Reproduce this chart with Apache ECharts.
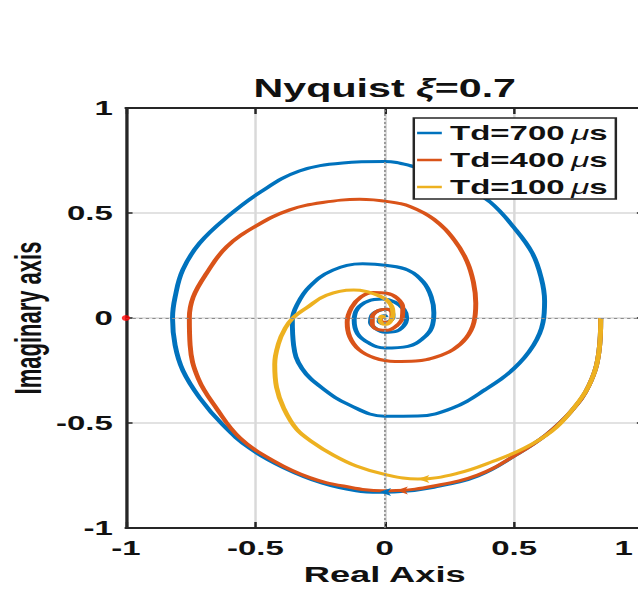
<!DOCTYPE html>
<html><head><meta charset="utf-8">
<script src="https://cdn.jsdelivr.net/npm/echarts@6/dist/echarts.min.js"></script>
<style>
html,body{margin:0;padding:0;background:#fff;overflow:hidden;width:638px;height:590px;}
#chart{width:387px;height:590px;transform:scaleX(1.648579);transform-origin:0 0;}
</style></head><body><div id="chart"></div>
<script>
// ---- data ----
const seriesNames = ['Td=700', 'Td=400', 'Td=100'];
const unitMu = 'μ';
const unitS = 's';
const tickLabels = ['-1', '-0.5', '0', '0.5', '1'];
const axisMin = -1, axisMax = 1, axisStep = 0.5;

const blueRe = [0.835,0.828,0.79,0.72,0.625,0.51,0.36,0.19,0.05,-0.02,-0.11,-0.24,-0.39,-0.52,-0.625,-0.715,-0.78,-0.81,-0.82,-0.81,-0.78,-0.715,-0.61,-0.48,-0.33,-0.162,0.0,0.10,0.21,0.32,0.41,0.50,0.57,0.605,0.618,0.612,0.575,0.50,0.39,0.26,0.128,0.0,-0.135,-0.24,-0.32,-0.352,-0.357,-0.34,-0.29,-0.20,-0.085,0.01,0.09,0.15,0.18,0.19,0.182,0.15,0.09,0.0,-0.06,-0.105,-0.118,-0.105,-0.065,-0.01,0.04,0.075,0.085,0.072,0.04,0.0,-0.035,-0.055,-0.05,-0.025,0.01,0.03,0.032,0.015,-0.01,-0.022,-0.015,0.0,0.006];
const blueIm = [0,-0.16,-0.32,-0.445,-0.555,-0.65,-0.752,-0.806,-0.828,-0.83,-0.823,-0.787,-0.713,-0.622,-0.51,-0.38,-0.25,-0.13,0,0.10,0.23,0.357,0.48,0.60,0.70,0.738,0.745,0.725,0.68,0.62,0.55,0.43,0.31,0.19,0.08,-0.02,-0.13,-0.24,-0.34,-0.43,-0.467,-0.468,-0.415,-0.335,-0.24,-0.13,-0.01,0.06,0.15,0.228,0.258,0.25,0.228,0.17,0.1,0.025,-0.045,-0.095,-0.135,-0.143,-0.12,-0.075,-0.01,0.045,0.08,0.09,0.075,0.04,0.0,-0.04,-0.065,-0.068,-0.05,-0.02,0.012,0.035,0.042,0.03,0.005,-0.018,-0.026,-0.015,0.002,0.012,0.004];

const orangeRe = [0.835,0.828,0.79,0.72,0.625,0.51,0.36,0.19,0.045,-0.01,-0.16,-0.29,-0.43,-0.56,-0.65,-0.72,-0.752,-0.755,-0.74,-0.69,-0.61,-0.495,-0.367,-0.24,-0.097,0.02,0.10,0.19,0.27,0.318,0.343,0.352,0.345,0.315,0.265,0.2,0.12,0.04,-0.04,-0.1,-0.135,-0.145,-0.128,-0.092,-0.045,0.008,0.048,0.07,0.068,0.045,0.01,-0.025,-0.048,-0.048,-0.025,0.008,0.028,0.028,0.01,-0.01,-0.016,-0.005];
const orangeIm = [0,-0.16,-0.32,-0.445,-0.555,-0.65,-0.748,-0.80,-0.822,-0.823,-0.80,-0.76,-0.68,-0.57,-0.43,-0.29,-0.13,0,0.10,0.21,0.34,0.44,0.515,0.55,0.565,0.553,0.53,0.47,0.37,0.27,0.17,0.07,-0.02,-0.095,-0.15,-0.185,-0.205,-0.207,-0.19,-0.15,-0.09,-0.02,0.05,0.1,0.122,0.118,0.095,0.05,0.0,-0.038,-0.058,-0.055,-0.03,0.005,0.035,0.042,0.025,0.0,-0.02,-0.02,-0.002,0.01];

const yellowRe = [0.835,0.828,0.79,0.72,0.645,0.54,0.425,0.28,0.128,0.0,-0.11,-0.20,-0.28,-0.34,-0.39,-0.418,-0.425,-0.41,-0.385,-0.355,-0.30,-0.225,-0.12,-0.03,0.02,0.032,0.02,0.0,-0.018,-0.012,0.004];
const yellowIm = [0,-0.16,-0.32,-0.445,-0.54,-0.62,-0.68,-0.74,-0.767,-0.745,-0.705,-0.652,-0.59,-0.53,-0.43,-0.33,-0.22,-0.12,-0.05,0,0.05,0.108,0.133,0.11,0.07,0.015,-0.02,-0.03,-0.012,0.008,0.006];

const arrowRe = [-0.02, 0.045, 0.128];
const arrowIm = [-0.828, -0.822, -0.767];
const criticalPoint = [-1, 0];

// ---- styling ----
const colors = ['#0072BD', '#D95319', '#EDB120'];
const FONT = "'Liberation Sans', Arial, Helvetica, sans-serif";
const INK = '#111111';
const AX = '#262626';

const zip = (a, b) => a.map((v, i) => [v, b[i]]);
const curves = [zip(blueRe, blueIm), zip(orangeRe, orangeIm), zip(yellowRe, yellowIm)];
const tickFmt = v => {
  const i = Math.round((v - axisMin) / axisStep);
  return i === tickLabels.length - 1 ? '{r|' + tickLabels[i] + '}' : tickLabels[i];
};
const tickFmtY = v => tickLabels[Math.round((v - axisMin) / axisStep)];

const baseAxis = { type: 'value', min: axisMin, max: axisMax, interval: axisStep };

const chart = echarts.init(document.getElementById('chart'), null, { renderer: 'svg' });
const option = {
  animation: false,
  backgroundColor: '#ffffff',
  title: {
    text: '{a|Nyquist }{g|ξ}{a|=0.7}',
    left: 233.4, top: 76, textAlign: 'center', padding: 0,
    textStyle: { rich: {
      a: { fontFamily: FONT, fontWeight: 'bold', fontSize: 25, color: INK },
      g: { fontFamily: FONT, fontStyle: 'italic', fontSize: 25, color: INK }
    } }
  },
  legend: {
    orient: 'vertical', left: 251, top: 118,
    padding: [5, 5, 2, 2], itemWidth: 15, itemHeight: 2.5, itemGap: 7,
    icon: 'rect',
    backgroundColor: '#ffffff', borderColor: AX, borderWidth: 1.5,
    selectedMode: false,
    data: seriesNames,
    formatter: n => '{a|' + n + '}{m|' + unitMu + '}{a|' + unitS + '}',
    textStyle: { rich: {
      a: { fontFamily: FONT, fontWeight: 'bold', fontSize: 20, color: INK, lineHeight: 20 },
      m: { fontFamily: FONT, fontStyle: 'italic', fontSize: 20, color: INK, lineHeight: 20, padding: [0, 0, 0, 4] }
    } }
  },
  grid: { left: 76.4, top: 108, width: 313.9, height: 420, outerBoundsMode: 'none' },
  xAxis: [
    Object.assign({}, baseAxis, {
      position: 'bottom',
      axisLine: { show: true, onZero: false, lineStyle: { color: AX, width: 2 } },
      axisTick: { show: true, inside: true, length: 6, lineStyle: { color: AX, width: 1.5 } },
      axisLabel: {
        formatter: tickFmt, fontFamily: FONT, fontWeight: 'bold', fontSize: 20, color: INK, margin: 10,
        rich: { r: { fontFamily: FONT, fontWeight: 'bold', fontSize: 20, color: INK, padding: [0, 24, 0, 0] } }
      },
      splitLine: { show: true, lineStyle: { color: '#d9d9d9', width: 1.5 } },
      name: 'Real Axis', nameLocation: 'middle', nameGap: 35, nameMoveOverlap: false,
      nameTextStyle: { fontFamily: FONT, fontWeight: 'bold', fontSize: 22, color: INK }
    }),
    Object.assign({}, baseAxis, {
      position: 'top',
      axisLine: { show: true, onZero: false, lineStyle: { color: AX, width: 2 } },
      axisTick: { show: true, inside: true, length: 6, lineStyle: { color: AX, width: 1.5 } },
      axisLabel: { show: false },
      splitLine: { show: false }
    })
  ],
  yAxis: [
    Object.assign({}, baseAxis, {
      position: 'left',
      axisLine: { show: true, onZero: false, lineStyle: { color: AX, width: 2 } },
      axisTick: { show: true, inside: true, length: 4, lineStyle: { color: AX, width: 1.5 } },
      axisLabel: { formatter: tickFmtY, fontFamily: FONT, fontWeight: 'bold', fontSize: 20, color: INK, margin: 8 },
      splitLine: { show: true, lineStyle: { color: '#d9d9d9', width: 1.5 } },
      name: 'Imaginary axis', nameLocation: 'middle', nameGap: 48, nameRotate: 90, nameMoveOverlap: false,
      nameTextStyle: { fontFamily: FONT, fontWeight: 'bold', fontSize: 22, color: INK }
    }),
    Object.assign({}, baseAxis, {
      position: 'right',
      axisLine: { show: true, onZero: false, lineStyle: { color: AX, width: 2 } },
      axisTick: { show: true, inside: true, length: 4, lineStyle: { color: AX, width: 1.5 } },
      axisLabel: { show: false },
      splitLine: { show: false }
    })
  ],
  series: [
    {
      type: 'line', name: '__zero', data: [], z: 1, silent: true,
      markLine: {
        silent: true, symbol: ['none', 'none'], label: { show: false },
        lineStyle: { color: '#8c8c8c', type: [2, 2], width: 1 },
        data: [{ xAxis: 0 }, { yAxis: 0 }]
      }
    }
  ].concat(seriesNames.map((n, i) => ({
    type: 'line', name: n, data: curves[i], z: 2 + i,
    showSymbol: false, symbol: 'none', smooth: 0.4,
    lineStyle: { color: colors[i], width: 3 }, itemStyle: { color: colors[i] },
    markPoint: {
      silent: true, symbol: 'arrow', symbolSize: [6, 7], symbolRotate: 90,
      label: { show: false }, itemStyle: { color: colors[i] },
      data: [{ coord: [arrowRe[i], arrowIm[i]] }]
    }
  }))).concat([
    {
      type: 'scatter', name: '__critical', data: [criticalPoint], z: 6,
      symbol: 'circle', symbolSize: [5, 6], itemStyle: { color: '#ff0000' }, silent: true
    }
  ])
};
chart.setOption(option);
</script>
</body></html>
